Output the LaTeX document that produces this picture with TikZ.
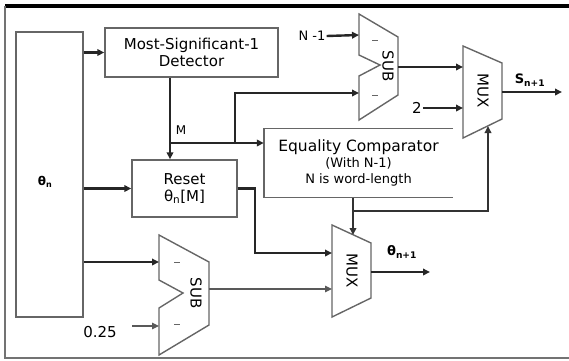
\documentclass[tikz,border=0pt]{standalone}
\usepackage{fontspec}
\setmainfont{DejaVu Sans}
\usetikzlibrary{arrows.meta}
\begin{document}
\begin{tikzpicture}[x=1pt,y=-1pt,
  boxline/.style={draw=black!60, line width=1.4pt},
  blk/.style={boxline, inner sep=0pt, align=center},
  shapeline/.style={draw=black!60, line width=1.4pt, line join=miter},
  sig/.style={draw=black!85, line width=2.4pt, -{Triangle[length=7pt,width=6.5pt]}},
  sigmid/.style={draw=black!80, line width=1.9pt, -{Triangle[length=7pt,width=6.5pt]}},
  sigthin/.style={draw=black!65, line width=1.2pt, -{Triangle[length=7pt,width=6.5pt]}},
  lbl/.style={inner sep=1pt},
  big/.style={font=\fontsize{15}{17}\selectfont},
  mid/.style={font=\fontsize{13}{15}\selectfont},
  minus/.style={draw=black!60, line width=1pt}]
\useasboundingbox (0,0) rectangle (569,360);
% frame
\draw[black, line width=3.5pt] (5,6) -- (569,6);
\draw[black!55, line width=1.8pt] (5,6) -- (5,358) -- (569,358);

% theta_n register
\node[blk, minimum width=67pt, minimum height=285pt] (theta) at (49.5,174.5) {};
\node[lbl, font=\fontsize{12}{14}\selectfont\bfseries] (thlbl) at (45,182) {θ\textsubscript{n}};

% detector
\node[blk, big, minimum width=173pt, minimum height=49pt] (det) at (191.5,52.5)
  {Most-Significant-1\\Detector};
% reset
\node[blk, big, minimum width=105pt, minimum height=57pt] (reset) at (184.5,188.5)
  {Reset\\θ\textsubscript{n}[M]};
% comparator (open on the right)
\node[inner sep=0pt, minimum width=189pt, minimum height=69pt, align=center,
      font=\fontsize{13}{16}\selectfont] (eq) at (358.5,163)
  {{\fontsize{15.5}{16}\selectfont Equality Comparator}\\(With N-1)\\N is word-length};
\draw[boxline] (eq.north east) -- (eq.north west) -- (eq.south west) -- (eq.south east);

% top SUB
\draw[shapeline] (359,14) -- (398,37) -- (398,95) -- (359,120) -- (359,76) -- (380,65) -- (359,55) -- cycle;
\node[big, rotate=-90, inner sep=0pt] (sub1) at (388,66) {SUB};
\draw[minus] (372,40) -- (378,40);
\draw[minus] (372,95) -- (378,95);
\coordinate (s1a) at (359,35);
\coordinate (s1b) at (359,93);
\coordinate (s1o) at (398,67);

% bottom SUB
\draw[shapeline] (159,235) -- (209,262) -- (209,325) -- (159,355) -- (159,308) -- (183,293) -- (159,280) -- cycle;
\node[big, rotate=-90, inner sep=0pt] (sub2) at (196,293) {SUB};
\draw[minus] (174,262) -- (180,262);
\draw[minus] (174,324) -- (180,324);
\coordinate (s2a) at (159,262);
\coordinate (s2b) at (159,326);
\coordinate (s2o) at (209,289);

% top MUX
\draw[shapeline] (463,46) -- (502,63) -- (502,119) -- (463,138) -- cycle;
\node[big, rotate=-90, inner sep=0pt] (mux1) at (483,91) {MUX};
\coordinate (m1a) at (463,67);
\coordinate (m1b) at (463,108);
\coordinate (m1o) at (502,92);
\coordinate (m1c) at (488,126);
\coordinate (sout) at (562,92);

% bottom MUX
\draw[shapeline] (332,225) -- (371,243) -- (371,298) -- (332,317) -- cycle;
\node[big, rotate=-90, inner sep=0pt] (mux2) at (352,271) {MUX};
\coordinate (m2a) at (332,253);
\coordinate (m2b) at (332,289);
\coordinate (m2c) at (353,235);
\coordinate (m2o) at (371,272);
\coordinate (thout) at (430,272);

% labels
\node[lbl, mid] (nm1) at (312,36) {N -1};
\node[lbl, big] (two) at (417,108) {2};
\node[lbl, big] (c025) at (100,332) {0.25};
\coordinate (c025r) at (132,326);
\node[lbl, font=\fontsize{12}{14}\selectfont] (mlbl) at (181,130) {M};
\node[lbl, font=\fontsize{13}{15}\selectfont\bfseries] (slbl) at (530,80) {S\textsubscript{n+1}};
\node[lbl, font=\fontsize{13}{15}\selectfont\bfseries] (tlbl) at (402,252) {θ\textsubscript{n+1}};

% junctions
\coordinate (mj) at (170,143);
\coordinate (bj) at (235,143);
\coordinate (rk) at (255,253);
\coordinate (ej) at (353,211);

% connectors
\draw[sig] (theta.east |- det.west) -- (det.west);
\draw[sig] (theta.east |- reset.west) -- (reset.west);
\draw[sig] (theta.east |- s2a) -- (s2a);
\draw[sigthin] (c025r) -- (s2b);
\draw[sig] (det.south -| mj) -- (reset.north -| mj);
\draw[sig] (mj) -- (eq.west |- mj);
\draw[sig] (bj) |- (s1b);
\draw[sig] (nm1.east) -- (s1a);
\draw[sig] (s1o) -- (m1a);
\draw[sig] (two.east) -- (m1b);
\draw[sig] (m1o) -- (sout);
\draw[sig] (reset.east) -| (rk) -- (m2a);
\draw[sigthin] (s2o) -- (m2b);
\draw[sigmid] (eq.south -| ej) -- (m2c);
\draw[sigmid] (ej) -| (m1c);
\draw[sig] (m2o) -- (thout);
\end{tikzpicture}
\end{document}
